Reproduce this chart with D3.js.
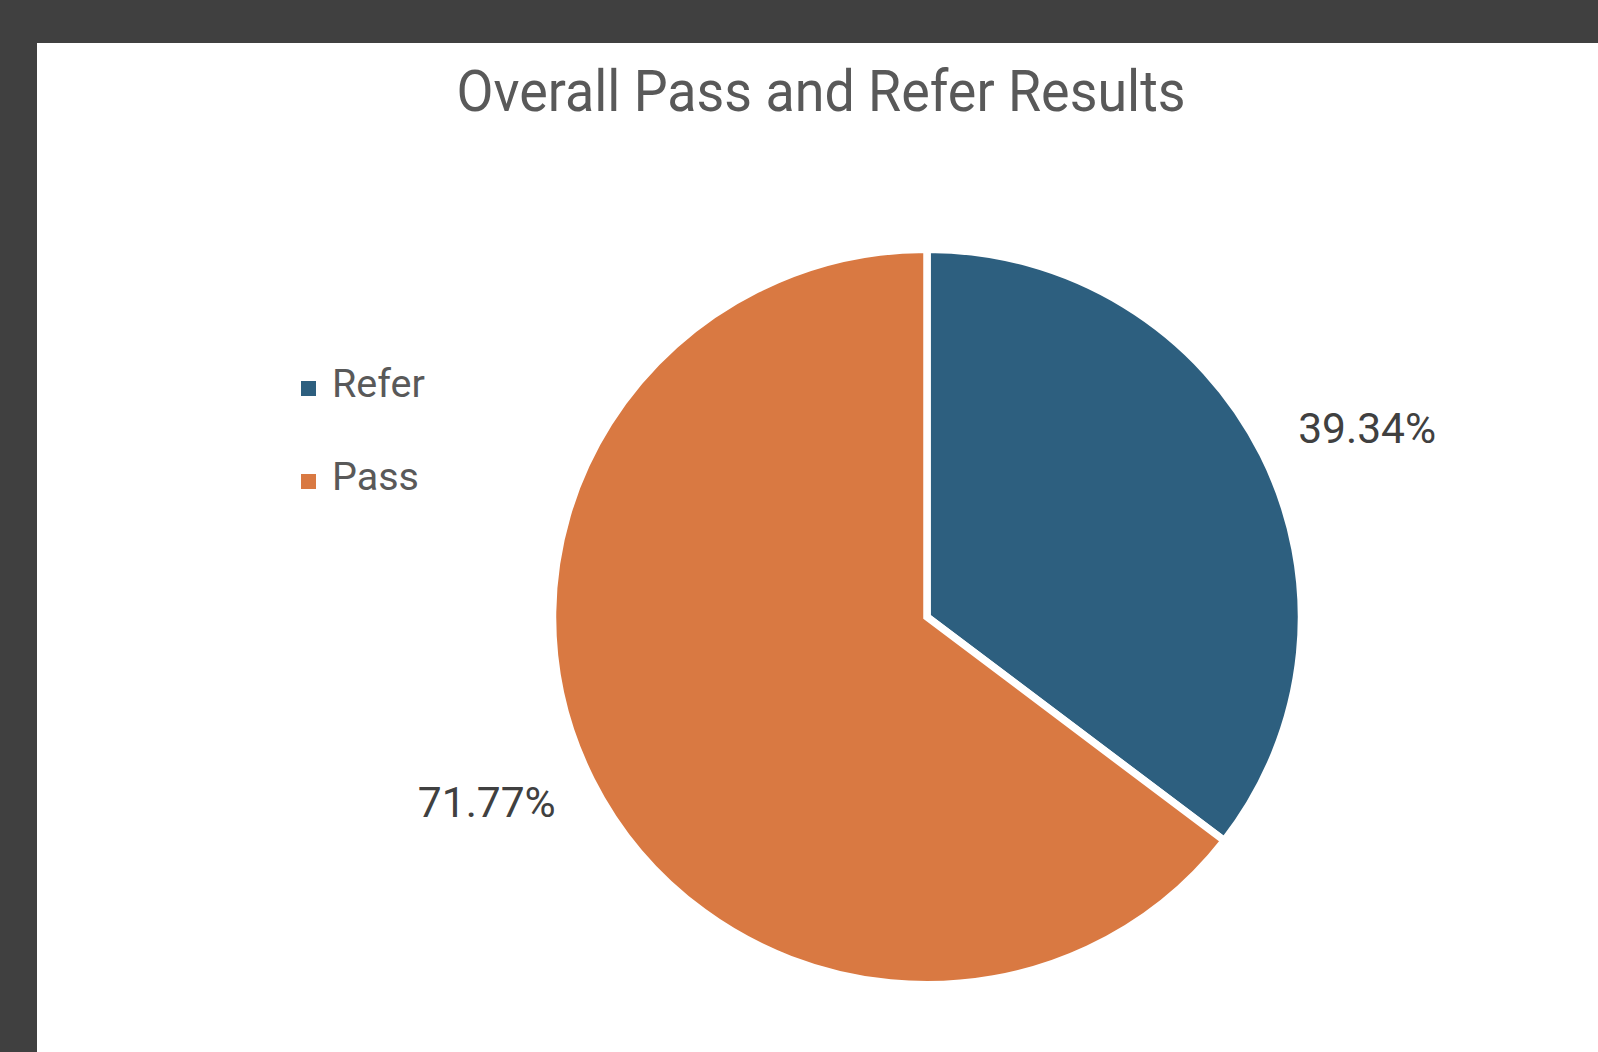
<!DOCTYPE html>
<html>
<head>
<meta charset="utf-8">
<script src="https://cdn.jsdelivr.net/npm/d3@7"></script>
<style>
  html, body { margin: 0; padding: 0; background: #404040; }
  svg { display: block; }
</style>
</head>
<body>
<div id="chart"></div>
<script>
// Chart data
const categories = ['Refer', 'Pass'];
const values = [39.34, 71.77];
const valueLabels = ['39.34%', '71.77%'];
const colors = ['#2D5F7F', '#D97942'];
const chartTitle = 'Overall Pass and Refer Results';

const width = 1598;
const height = 1052;

const svg = d3.select('#chart')
  .append('svg')
  .attr('width', width)
  .attr('height', height);

// White chart area
svg.append('rect')
  .attr('x', 37)
  .attr('y', 43)
  .attr('width', width - 37)
  .attr('height', height - 43)
  .style('fill', '#fff');

// Title
svg.append('text')
  .attr('x', 821)
  .attr('y', 111)
  .attr('text-anchor', 'middle')
  .attr('textLength', 729)
  .attr('lengthAdjust', 'spacingAndGlyphs')
  .style('font-family', 'Roboto, sans-serif')
  .style('font-size', '57px')
  .style('fill', '#595959')
  .text(chartTitle);

// Pie
const cx = 927;
const cy = 617;
const radius = 374.5;
const squash = 0.982;

const pie = d3.pie().sort(null).value(d => d);
const arcs = pie(values);

const arc = d3.arc().innerRadius(0).outerRadius(radius);
const labelArc = d3.arc().innerRadius(414).outerRadius(414);

const pieGroup = svg.append('g')
  .attr('transform', `translate(${cx}, ${cy}) scale(1, ${squash})`);

pieGroup.selectAll('path')
  .data(arcs)
  .enter()
  .append('path')
  .attr('d', arc)
  .style('fill', (d, i) => colors[i])
  .style('stroke', '#fff')
  .style('stroke-width', '7.5px')
  .style('stroke-linejoin', 'miter');

// Data labels, outside end: corner nearest the pie sits on the label arc
svg.append('g')
  .selectAll('text')
  .data(arcs)
  .enter()
  .append('text')
  .attr('x', d => cx + labelArc.centroid(d)[0])
  .attr('y', d => cy + labelArc.centroid(d)[1] * squash)
  .attr('dy', d => labelArc.centroid(d)[0] >= 0 ? '0.14em' : '0.47em')
  .attr('text-anchor', d => labelArc.centroid(d)[0] >= 0 ? 'start' : 'end')
  .style('font-family', 'Roboto, sans-serif')
  .style('font-size', '42.5px')
  .style('fill', '#404040')
  .text((d, i) => valueLabels[i]);

// Legend
const legend = svg.append('g')
  .attr('transform', 'translate(301, 0)');

const legendItems = legend.selectAll('g')
  .data(categories)
  .enter()
  .append('g')
  .attr('transform', (d, i) => `translate(0, ${397 + i * 93})`);

legendItems.append('rect')
  .attr('x', 0)
  .attr('y', -16)
  .attr('width', 15)
  .attr('height', 15)
  .style('fill', (d, i) => colors[i]);

legendItems.append('text')
  .attr('x', 31)
  .attr('y', 0)
  .style('font-family', 'Roboto, sans-serif')
  .style('font-size', '39.5px')
  .style('fill', '#595959')
  .text(d => d);
</script>
</body>
</html>
